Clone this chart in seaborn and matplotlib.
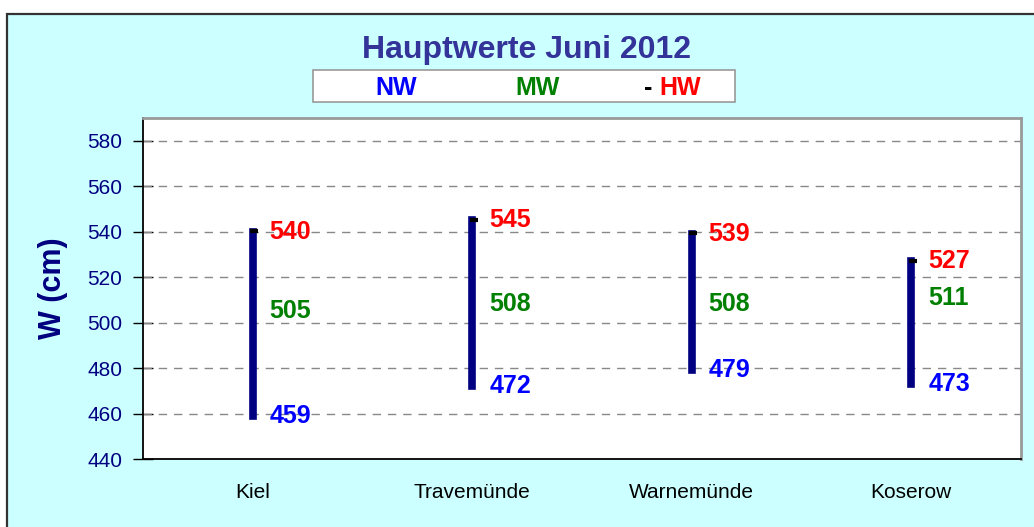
import matplotlib
matplotlib.use("Agg")
import matplotlib.pyplot as plt
import matplotlib.patches as mpatches
import matplotlib.transforms as mtransforms
import seaborn as sns
import pandas as pd

stations = ["Kiel", "Travemünde", "Warnemünde", "Koserow"]
nw = [459, 472, 479, 473]
mw = [505, 508, 508, 511]
hw = [540, 545, 539, 527]
yticks = [440, 460, 480, 500, 520, 540, 560, 580]

sns.set_theme(style="white")
plt.rcParams["font.family"] = ["Liberation Sans", "DejaVu Sans"]

W, H = 1034, 527
fig = plt.figure(figsize=(W / 100, H / 100), dpi=100, facecolor="white")

# outer chart border / background
bg = mpatches.Rectangle((7 / W, -0.2), 1.2, 1 - 14 / H + 0.2, transform=fig.transFigure,
                        facecolor="#CCFFFF", edgecolor="#333333", linewidth=1.6, zorder=-5)
fig.patches.append(bg)

ax = fig.add_axes([143 / W, 1 - 459 / H, (1021 - 143) / W, (459 - 118) / H])
ax.set_zorder(1)
ax.set_facecolor("white")

df = pd.DataFrame({
    "station": stations * 2,
    "value": nw + hw,
})
sns.pointplot(data=df, x="station", y="value", order=stations, estimator="mean",
              errorbar=("pi", 100), linestyle="none", marker="",
              err_kws={"linewidth": 5.5, "color": "#000080", "solid_capstyle": "projecting"},
              ax=ax, zorder=3)

xpos = list(range(len(stations)))
shift = mtransforms.ScaledTranslation(1.5 / 100, 0.5 / 100, fig.dpi_scale_trans)
ax.plot(xpos, hw, linestyle="none", marker="_", markersize=6, markeredgewidth=3,
        color="black", transform=ax.transData + shift, zorder=10)

lab_off = mtransforms.ScaledTranslation(17 / 100, 0, fig.dpi_scale_trans)
for i in xpos:
    for v, c in ((hw[i], "#FF0000"), (mw[i], "#008000"), (nw[i], "#0000FF")):
        ax.text(i, v, str(v), color=c, fontsize=18, fontweight="bold", ha="left",
                va="center", transform=ax.transData + lab_off, zorder=11)

ax.set_ylim(440, 590)
ax.set_xlim(-0.5, len(stations) - 0.5)
ax.set_yticks(yticks)
ax.set_yticklabels([str(t) for t in yticks], color="#000080", fontsize=15)
ax.set_xticks(xpos)
ax.set_xticklabels(stations, color="black", fontsize=15)
ax.set_xticks([x - 0.5 for x in range(len(stations) + 1)], minor=True)
ax.tick_params(axis="x", which="major", length=0, pad=17)
ax.tick_params(axis="x", which="minor", length=14, direction="inout", color="#777777", width=1.2)
ax.tick_params(axis="y", which="major", length=14, direction="inout", color="black", width=1, pad=8, left=True)
for t in yticks[1:]:
    ax.axhline(t, color="#888888", linestyle=(0, (6, 5)), linewidth=1, zorder=1)
ax.set_xlabel("")
ax.set_ylabel("W (cm)", color="#000080", fontsize=22, fontweight="bold", labelpad=14)

for s in ("left", "bottom"):
    ax.spines[s].set_color("black")
    ax.spines[s].set_linewidth(1.3)
for s in ("top", "right"):
    ax.spines[s].set_visible(True)
    ax.spines[s].set_color("#999999")
    ax.spines[s].set_linewidth(2)

# title
fig.text(527 / W, 1 - 50 / H, "Hauptwerte Juni 2012", ha="center", va="center",
         fontsize=23, fontweight="bold", color="#333399", zorder=3)

# legend box
leg = mpatches.Rectangle((313 / W, 1 - 102 / H), (735 - 313) / W, 32 / H, transform=fig.transFigure,
                         facecolor="white", edgecolor="#999999", linewidth=1.2, zorder=2)
fig.patches.append(leg)
ly = 1 - 88 / H
kw = dict(ha="center", va="center", fontsize=18, fontweight="bold", zorder=3)
fig.text(396 / W, ly, "NW", color="#0000FF", **kw)
fig.text(538 / W, ly, "MW", color="#008000", **kw)
fig.text(648 / W, ly, "-", color="black", **kw)
fig.text(680 / W, ly, "HW", color="#FF0000", **kw)

fig.savefig("out.png", dpi=100, facecolor=fig.get_facecolor())
